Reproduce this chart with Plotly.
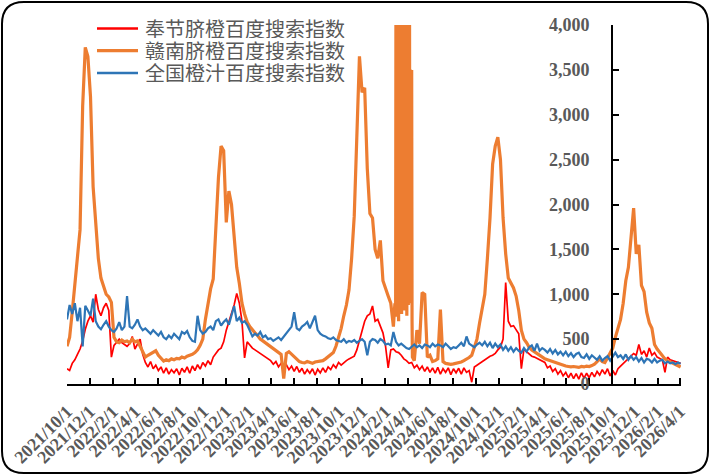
import pandas as pd
import plotly.graph_objects as go

# weekly readings, starting 2021/10/1
start_date = "2021-10-01"
n_weeks = 236

# 奉节脐橙百度搜索指数
fengjie = [
    170, 150, 230, 270, 330, 390, 480, 610, 700, 760,
    690, 1000, 830, 760, 850, 900, 820, 300, 430, 470,
    500, 460, 440, 420, 450, 530, 390, 450, 500, 330,
    240, 190, 250, 170, 210, 150, 190, 120, 180, 110,
    160, 125, 170, 100, 175, 130, 190, 120, 200, 150,
    215, 165, 240, 200, 260, 215, 300, 340, 380, 400,
    470, 600, 690, 780, 880, 1010, 900, 700, 290, 470,
    430, 400, 380, 360, 340, 320, 300, 280, 260, 220,
    250, 190, 230, 170, 215, 160, 200, 140, 195, 130,
    175, 110, 160, 120, 170, 100, 165, 125, 180, 130,
    190, 160, 215, 180, 240, 210, 240, 260, 280, 300,
    310, 380, 480, 600, 700, 760, 780, 870, 700, 720,
    650, 570, 420, 180, 380, 390, 360, 350, 320, 280,
    260, 230, 240, 180, 210, 160, 200, 140, 190, 130,
    180, 120, 185, 110, 170, 130, 180, 105, 170, 125,
    175, 110, 180, 130, 150, 20, 190, 210, 240, 260,
    280, 300, 310, 320, 340, 380, 410, 500, 1130, 700,
    640, 650, 610, 560, 170, 390, 360, 330, 310, 300,
    285, 270, 250, 240, 180, 200, 140, 170, 110, 150,
    90, 130, 70, 120, 60, 115, 55, 125, 65, 120,
    70, 130, 80, 140, 100, 160, 110, 170, 90, 150,
    100, 170, 200, 230, 260, 280, 310, 340, 320, 440,
    330, 370, 300, 400, 320, 350, 300, 280, 270, 130,
    300, 270, 260, 250, 240, 230,
]

# 赣南脐橙百度搜索指数
gannan = [
    420, 520, 800, 1100, 1350, 1720, 3100, 3750, 3650, 3200,
    2200, 1800, 1400, 1180, 1080, 1000, 970, 910, 520, 470,
    460, 490, 470, 480, 460, 500, 470, 480, 420, 350,
    300, 320, 340, 350, 370, 320, 280, 255, 270, 260,
    280, 270, 285, 280, 300, 290, 310, 320, 330, 350,
    380, 430, 500, 720, 900, 1060, 1170, 1700, 2300, 2650,
    2600, 1800, 2150, 2000, 1650, 1300, 1120, 900, 780, 690,
    640, 600, 570, 540, 500, 480, 460, 440, 420, 400,
    370, 350, 330, 60, 340, 360, 330, 300, 270, 250,
    240, 235, 250, 240, 230, 245, 250, 255, 260, 280,
    300, 320, 350, 420, 520, 620, 760, 880, 1050, 1400,
    1870, 2700, 3650, 3250, 3300, 2400, 1900, 1850, 1500, 1400,
    1600, 1150, 1050, 980, 900, 640, 4500, 750, 5000, 1500,
    4800, 4200, 900, 260, 600, 450, 1020, 1000, 300, 320,
    250, 260, 280, 830, 250, 230, 225, 220, 225, 230,
    235, 245, 260, 275, 295, 320, 400, 500, 680, 850,
    1000, 1400, 1850, 2450, 2650, 2750, 2500, 1850, 1450, 1180,
    1130, 1070, 980, 820, 600, 500, 460, 410, 380, 360,
    330, 310, 295, 280, 270, 260, 245, 240, 230, 215,
    205, 200, 195, 190, 195, 190, 185, 195, 190, 200,
    195, 205, 220, 250, 280, 250, 240, 290, 340, 400,
    520, 620, 720, 900, 1150, 1300, 1650, 1960, 1450, 1550,
    1100, 1030, 800, 680, 620, 440, 390, 350, 310, 280,
    260, 245, 235, 220, 205, 190,
]

# 赣南脐橙 daily readings for the spring 2024 burst (2024/2/27 - 2024/4/14)
burst_start = "2024-02-27"
burst_end = "2024-04-14"
gannan_burst = [
    900, 4500, 800,
    5200, 1200, 4800, 750, 5600, 1000, 4400, 700, 5100, 1400,
    4900, 850, 5800, 1100, 4600, 780, 5300, 950, 4700, 1250,
    5500, 820, 4500, 1050, 6000, 900, 4800, 1300, 5200, 760,
    4400,
    1150, 5000, 880, 4600, 1000, 5400, 930, 3500, 1200, 3450,
    900, 3500, 700, 300,
]

# 全国橙汁百度搜索指数
juice = [
    720, 880, 780, 900, 700, 850, 420, 870, 820, 760,
    950, 700, 640, 610, 660, 700, 640, 600, 580, 620,
    690, 600, 640, 980, 640, 620, 660, 720, 640, 600,
    620, 590, 560, 600, 570, 540, 580, 520, 500, 540,
    510, 560, 530, 500, 580, 560, 590, 520, 480, 470,
    760, 600, 560, 580, 620, 640, 600, 700, 720, 650,
    690, 720, 660, 760, 870, 700, 740, 680, 700, 660,
    600, 530, 560, 540, 580, 520, 540, 500, 510, 480,
    500, 520, 490, 530, 560, 610, 640, 800, 620, 600,
    640, 660, 690, 620, 700, 760, 600, 560, 540, 530,
    510, 500, 520, 490, 480, 470, 500, 460, 480, 470,
    490, 460, 480, 500, 470, 320, 470, 500, 490, 460,
    500, 480, 440, 450, 430, 580, 470, 430, 450, 420,
    400, 390, 420, 440, 410, 430, 400, 440, 430, 410,
    450, 420, 440, 430, 410, 450, 420, 390, 410, 400,
    430, 460, 420, 530, 450, 430, 410, 440, 460, 430,
    470, 420, 460, 400, 450, 410, 440, 380, 420, 370,
    410, 360, 400, 370, 350, 400, 360, 410, 430, 370,
    450, 370, 400, 380, 350, 390, 340, 380, 330, 360,
    320, 360, 310, 345, 300, 335, 350, 300, 290, 330,
    280, 320, 300, 270, 310, 260, 290, 310, 260, 310,
    350, 300, 320, 280, 330, 270, 310, 270, 300, 250,
    290, 240, 280, 270, 240, 280, 240, 260, 270, 230,
    250, 230, 240, 220, 240, 225,
]

dates = pd.date_range(start_date, periods=n_weeks, freq="7D")

# weekly orange series with the daily burst spliced in
gn_weekly = pd.Series(gannan, index=dates)
gn_burst = pd.Series(gannan_burst, index=pd.date_range(burst_start, burst_end, freq="D"))
gn = pd.concat([gn_weekly[(gn_weekly.index < burst_start) | (gn_weekly.index > burst_end)],
                gn_burst]).sort_index()

names = ["奉节脐橙百度搜索指数", "赣南脐橙百度搜索指数", "全国橙汁百度搜索指数"]
colors = ["#FF0000", "#ED7D31", "#2E75B6"]
widths = [1.7, 3.2, 2.2]

fig = go.Figure()
fig.add_trace(go.Scatter(x=dates, y=fengjie, mode="lines", name=names[0],
                         line=dict(color=colors[0], width=widths[0])))
fig.add_trace(go.Scatter(x=gn.index, y=gn.values, mode="lines", name=names[1],
                         line=dict(color=colors[1], width=widths[1])))
fig.add_trace(go.Scatter(x=dates, y=juice, mode="lines", name=names[2],
                         line=dict(color=colors[2], width=widths[2])))

# plot area in pixels
L, R, T, B = 67, 681, 25, 384
W, H = R - L, B - T


def px_x(p):
    return (p - L) / W


def px_y(p):
    return (B - p) / H


# rounded frame round the whole picture
x0, x1, y0, y1, r = 2, 708, 2, 473, 22
border = (
    f"M {px_x(x0 + r)} {px_y(y0)} L {px_x(x1 - r)} {px_y(y0)} "
    f"Q {px_x(x1)} {px_y(y0)} {px_x(x1)} {px_y(y0 + r)} "
    f"L {px_x(x1)} {px_y(y1 - r)} Q {px_x(x1)} {px_y(y1)} {px_x(x1 - r)} {px_y(y1)} "
    f"L {px_x(x0 + r)} {px_y(y1)} Q {px_x(x0)} {px_y(y1)} {px_x(x0)} {px_y(y1 - r)} "
    f"L {px_x(x0)} {px_y(y0 + r)} Q {px_x(x0)} {px_y(y0)} {px_x(x0 + r)} {px_y(y0)} Z"
)
shapes = [dict(type="path", xref="paper", yref="paper", path=border,
               line=dict(color="black", width=2), fillcolor="rgba(0,0,0,0)")]

# hand-made legend (longer line samples, tight rows like the original)
annotations = []
for i, (nm, c, w) in enumerate(zip(names, colors, widths)):
    yy = px_y(28.5 + 22.2 * i)
    shapes.append(dict(type="line", xref="paper", yref="paper",
                       x0=px_x(97), x1=px_x(138), y0=yy, y1=yy,
                       line=dict(color=c, width=max(w, 2.5))))
    annotations.append(dict(xref="paper", yref="paper", x=px_x(144), y=yy,
                            xanchor="left", yanchor="middle", showarrow=False,
                            height=19, borderpad=0, valign="middle",
                            text=nm, font=dict(family="Noto Sans CJK SC", size=20,
                                               color="#595959")))

tick_font = dict(family="Liberation Serif", size=18, color="#595959", weight="bold")

x_range = ["2021-10-01", "2026-04-04"]
span = (pd.Timestamp(x_range[1]) - pd.Timestamp(x_range[0])).days
yaxis_pos = (pd.Timestamp("2025-10-01") - pd.Timestamp(x_range[0])).days / span

fig.update_layout(
    width=710, height=475,
    margin=dict(l=L, r=710 - R, t=T, b=475 - B),
    paper_bgcolor="white", plot_bgcolor="white",
    showlegend=False,
    xaxis=dict(type="date", range=x_range, tick0="2021-10-01", dtick="M2",
               tickformat="%Y/%-m/%-d", tickangle=-45, tickfont=tick_font,
               showline=True, linecolor="black", linewidth=2,
               ticks="inside", ticklen=6, tickwidth=1.5, tickcolor="black",
               showgrid=False, zeroline=False, ticklabelstandoff=8,
               automargin=False),
    yaxis=dict(range=[0, 4000], dtick=500, tickformat=",", tickfont=tick_font,
               anchor="free", position=yaxis_pos, side="left",
               showline=True, linecolor="black", linewidth=2,
               ticks="inside", ticklen=6, tickwidth=1.5, tickcolor="black",
               showgrid=False, zeroline=False, ticklabelstandoff=18,
               automargin=False),
    shapes=shapes,
    annotations=annotations,
)

# the page's default body margin would push the figure 8px off the corner
fig.write_html("out.html", config={"displayModeBar": False},
               post_script="document.body.style.margin = '0';")
